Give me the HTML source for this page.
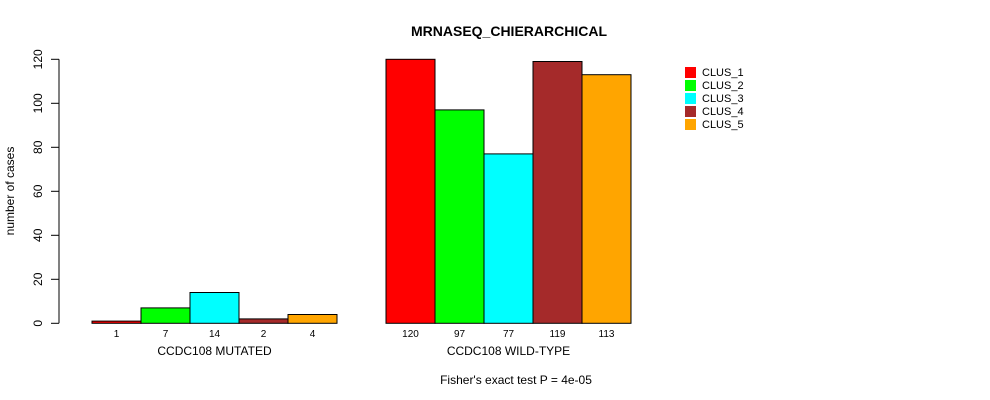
<!DOCTYPE html>
<html><head><meta charset="utf-8"><style>body{margin:0;background:#fff}svg{display:block;font-family:"Liberation Sans",sans-serif}</style></head>
<body>
<svg id="chart" width="990" height="400" xmlns="http://www.w3.org/2000/svg">
<text x="509" y="36" text-anchor="middle" font-size="14" font-weight="bold">MRNASEQ_CHIERARCHICAL</text>
<text transform="translate(14,191) rotate(-90)" text-anchor="middle" font-size="12">number of cases</text>
<text x="516" y="384" text-anchor="middle" font-size="12">Fisher's exact test P = 4e-05</text>
<g id="axis"></g><g id="bars"></g><g id="legend"></g>
</svg>
<script>
const groups = ["CCDC108 MUTATED", "CCDC108 WILD-TYPE"];
const clusters = ["CLUS_1","CLUS_2","CLUS_3","CLUS_4","CLUS_5"];
const mutated = [1, 7, 14, 2, 4];
const wildtype = [120, 97, 77, 119, 113];
const yTicks = [0, 20, 40, 60, 80, 100, 120];
const colors = ["#ff0000","#00ff00","#00ffff","#a52a2a","#ffa500"];
const NS = "http://www.w3.org/2000/svg";
const y = v => 323.3 - v * (264 / 120);
const groupStart = [92, 386], bw = 49;
function mk(tag, attrs, parent, txt){const e=document.createElementNS(NS,tag);for(const k in attrs)e.setAttribute(k,attrs[k]);if(txt!==undefined)e.textContent=txt;parent.appendChild(e);return e;}
const ax = document.getElementById('axis');
const al = mk('line',{x1:59,x2:59,y1:y(0),y2:y(120),stroke:'#000'},ax);


yTicks.forEach(t=>{
  const l=mk('line',{x1:51,x2:59,y1:y(t),y2:y(t),stroke:'#000'},ax);
  
  
  const tx=mk('text',{transform:`translate(42,${y(t)}) rotate(-90)`,'text-anchor':'middle','font-size':12},ax,String(t));
  
  
});
const bg = document.getElementById('bars');
[mutated, wildtype].forEach((series,gi)=>{
  series.forEach((v,i)=>{
    const x=groupStart[gi]+i*bw;
    const r=mk('rect',{x:x,y:y(v),width:bw,height:y(0)-y(v),fill:colors[i],stroke:'#000','stroke-width':1},bg);
    
    
    const t=mk('text',{x:x+bw/2,y:337,'text-anchor':'middle','font-size':10},bg,String(v));
    
    
  });
  const g=mk('text',{x:groupStart[gi]+bw*2.5,y:355,'text-anchor':'middle','font-size':12},bg,groups[gi]);
  
  
});
const lg = document.getElementById('legend');
clusters.forEach((c,i)=>{
  const r=mk('rect',{x:685,y:67+i*13,width:11,height:11,fill:colors[i]},lg);
  
  
  const t=mk('text',{x:702,y:76+i*13,'font-size':11},lg,c);
  
  
});
</script>
</body></html>
